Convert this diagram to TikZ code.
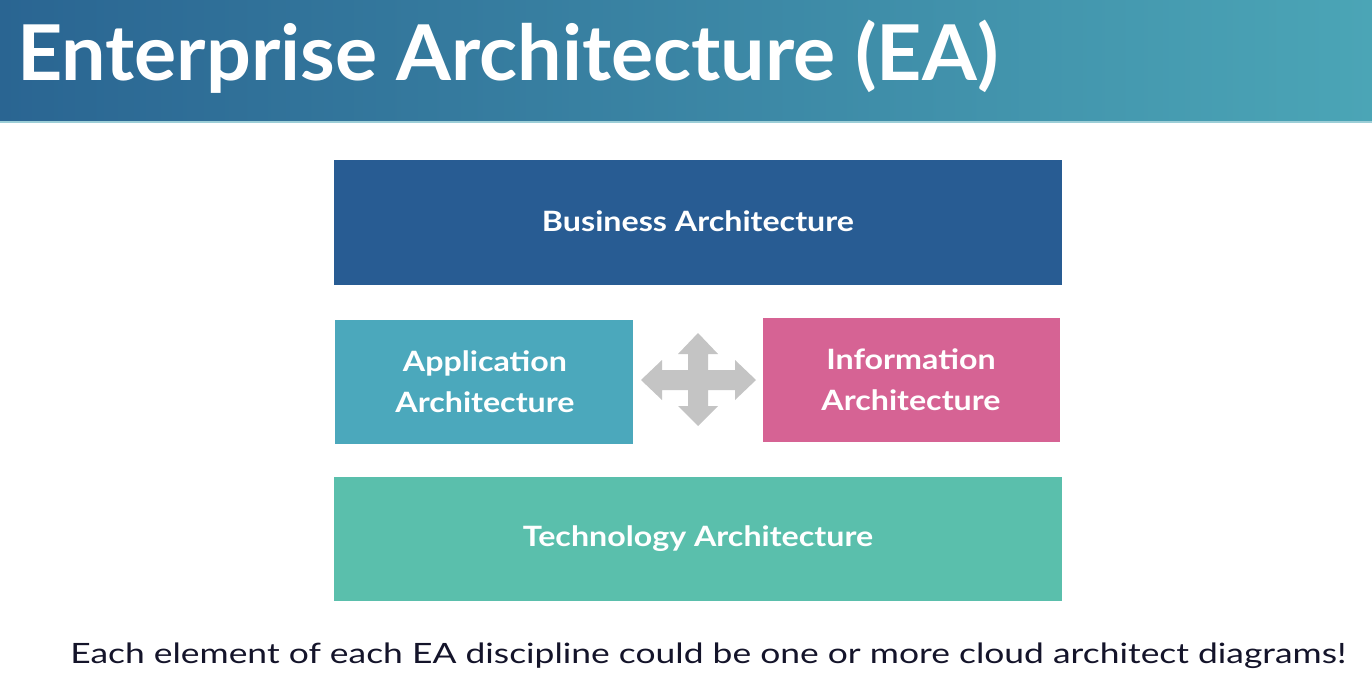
\documentclass[tikz,border=0pt]{standalone}
\usepackage{fontspec}
\setmainfont{Lato}
\definecolor{hdrL}{HTML}{2A6592}
\definecolor{hdrR}{HTML}{4BA5B6}
\definecolor{bizC}{HTML}{285C93}
\definecolor{appC}{HTML}{4BA8BC}
\definecolor{infC}{HTML}{D66394}
\definecolor{tecC}{HTML}{5ABFAC}
\definecolor{arrC}{HTML}{C4C4C4}
\definecolor{txtC}{HTML}{14142A}
\tikzset{
  layer/.style={fill=#1, draw=none},
  layertext/.style={text=white, font=\fontsize{28}{41}\selectfont\bfseries, align=center,
    inner sep=0, transform shape, xscale=1.15},
}
\begin{document}
\begin{tikzpicture}[x=1pt,y=-1pt]
\useasboundingbox (0,0) rectangle (1372,686);
\fill[white] (0,0) rectangle (1372,686);
\shade[left color=hdrL, right color=hdrR] (0,0) rectangle (1372,122);
\fill[hdrR!55!white] (0,121) rectangle (1372,123);
\node[anchor=base west, text=white, font=\fontsize{77}{90}\selectfont\bfseries, inner sep=0,
  transform shape, xscale=1.025] (title) at (17,80) {Enterprise Architecture (EA)};
% boxes
\fill[layer=bizC] (334,160) rectangle (1062,285);
\node[layertext, anchor=base] (biz) at (698,231) {Business Architecture};
\fill[layer=appC] (335,320) rectangle (633,444);
\node[layertext] (app) at (485,382) {Application\\Architecture};
\fill[layer=infC] (763,318) rectangle (1060,442);
\node[layertext] (inf) at (911,380) {Information\\Architecture};
\fill[layer=tecC] (334,477) rectangle (1062,601);
\node[layertext, anchor=base] (tec) at (698,546) {Technology Architecture};
% four-way arrow
\coordinate (ac) at (698,380);
\fill[arrC] (698,333) -- (718,354) -- (708,354) -- (708,370) -- (735,370) -- (735,360) -- (756,380)
  -- (735,400) -- (735,390) -- (708,390) -- (708,406) -- (718,406) -- (698,426) -- (678,406)
  -- (688,406) -- (688,390) -- (662,390) -- (662,400) -- (641,380) -- (662,360) -- (662,370)
  -- (688,370) -- (688,354) -- (678,354) -- cycle;
\node[anchor=base west, text=txtC, font=\fontsize{28}{32}\selectfont, inner sep=0,
  transform shape, xscale=1.265] (note) at (70,663) {Each element of each EA discipline could be one or more cloud architect diagrams!};
\end{tikzpicture}
\end{document}
